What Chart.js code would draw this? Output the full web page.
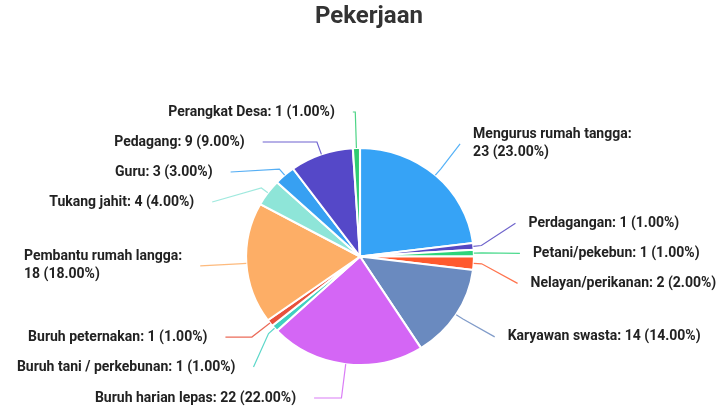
<!DOCTYPE html>
<html>
<head>
<meta charset="utf-8">
<script src="https://cdn.jsdelivr.net/npm/chart.js@4"></script>
<style>
  html, body { margin: 0; padding: 0; background: #fff; }
  #wrap { width: 722px; height: 406px; }
</style>
</head>
<body>
<div id="wrap"><canvas id="grafico" width="722" height="406"></canvas></div>
<script>
const judul = 'Pekerjaan';

const kategori = [
    'Mengurus rumah tangga',
    'Perdagangan',
    'Petani/pekebun',
    'Nelayan/perikanan',
    'Karyawan swasta',
    'Buruh harian lepas',
    'Buruh tani / perkebunan',
    'Buruh peternakan',
    'Pembantu rumah langga',
    'Tukang jahit',
    'Guru',
    'Pedagang',
    'Perangkat Desa'
];

const jumlah = [23, 1, 1, 2, 14, 22, 1, 1, 18, 4, 3, 9, 1];

const warna = [
    '#36a3f6', '#5548c2', '#2ed47a', '#ff5a2e', '#6a8abf', '#d466f5',
    '#40d0c0', '#e8513c', '#fdae66', '#8ee5d8', '#37a0f2', '#5548c8', '#2ecc71'
];

const SX = 1.05; // pie sedikit melebar seperti gambar asli

// label di luar pie dengan garis penunjuk
const labelLuar = {
    id: 'labelLuar',
    beforeDatasetsDraw(chart) {
        const a = chart.getDatasetMeta(0).data[0];
        const c = chart.ctx;
        c.save();
        c.translate(a.x, a.y);
        c.scale(SX, 1);
        c.translate(-a.x, -a.y);
    },
    afterDatasetsDraw(chart) {
        const c = chart.ctx;
        c.restore();

        const arcs = chart.getDatasetMeta(0).data;
        const total = jumlah.reduce((a, b) => a + b, 0);
        const W = chart.width, H = chart.height;
        const R_LABEL = 150;   // posisi awal label
        const A_ELIPS = 160;   // jarak horizontal label
        const LH = 18;
        const JARAK = 30;
        const MAKS = 235;

        c.save();

        // judul
        c.font = 'bold 24px Roboto, "Noto Sans", sans-serif';
        c.fillStyle = '#333';
        c.textAlign = 'center';
        c.textBaseline = 'middle';
        c.fillText(judul, 369, 17);

        c.font = 'bold 14px Roboto, "Noto Sans", sans-serif';

        const items = arcs.map((arc, i) => {
            const p = arc.getProps(['x', 'y', 'startAngle', 'endAngle', 'outerRadius']);
            const mid = (p.startAngle + p.endAngle) / 2;
            const kanan = Math.cos(mid) >= 0;
            const pct = (jumlah[i] / total * 100).toFixed(2);
            const teks = kategori[i] + ': ' + jumlah[i] + ' (' + pct + '%)';
            return {
                i, p, mid, kanan, teks,
                y: p.y + R_LABEL * Math.sin(mid)
            };
        });

        // bungkus teks kalau terlalu panjang
        items.forEach(it => {
            const dy = it.y - it.p.y;
            const dx = A_ELIPS * Math.sqrt(Math.max(0, 1 - (dy * dy) / (R_LABEL * R_LABEL)));
            const ax = it.kanan ? it.p.x + dx + 12 : it.p.x - dx - 18;
            const ruang = Math.min(MAKS, it.kanan ? W - ax : ax);
            if (c.measureText(it.teks).width > ruang) {
                const k = it.teks.indexOf(': ');
                it.baris = [it.teks.slice(0, k + 1), it.teks.slice(k + 2)];
            } else {
                it.baris = [it.teks];
            }
            it.h = it.baris.length * LH;
        });

        const atur = (grup) => {
            grup.sort((a, b) => a.y - b.y);
            for (let n = 0; n < 200; n++) {
                for (let k = 1; k < grup.length; k++) {
                    const a = grup[k - 1], b = grup[k];
                    const min = JARAK + (a.h - LH) / 2 + (b.h - LH) / 2;
                    const lewat = a.y + min - b.y;
                    if (lewat > 0) {
                        a.y -= lewat / 2;
                        b.y += lewat / 2;
                    }
                }
                grup.forEach(it => {
                    const atas = 112 + (it.h - LH) / 2;
                    const bawah = H - 8 - (it.h - LH) / 2;
                    it.y = Math.min(bawah, Math.max(atas, it.y));
                });
            }
        };
        atur(items.filter(it => it.kanan));
        atur(items.filter(it => !it.kanan));

        const cy = items[0].p.y + 1.5;
        const B_ELIPS = Math.max(...items.map(it => Math.abs(it.y - cy))) / 0.999;

        items.forEach(it => {
            const { p, mid } = it;
            const r = p.outerRadius;
            const cos = Math.cos(mid), sin = Math.sin(mid);
            const ex = p.x + SX * r * cos, ey = p.y + r * sin;

            // panjang garis pertama: sampai tinggi label kalau dekat
            let t = Math.abs(sin) > 0.01 ? (it.y - ey) / sin : -1;
            if (!(t > 8 && t <= 40)) t = 8;
            const bx = ex + t * cos, by = ey + t * sin;

            const dy = it.y - cy;
            const dx = A_ELIPS * Math.sqrt(Math.max(0, 1 - (dy * dy) / (B_ELIPS * B_ELIPS)));
            const ax = it.kanan ? p.x + dx : p.x - dx;

            c.strokeStyle = warna[it.i];
            c.globalAlpha = 0.85;
            c.lineWidth = 1.2;
            c.beginPath();
            c.moveTo(ex, ey);
            c.lineTo(bx, by);
            c.lineTo(ax, it.y);
            c.stroke();
            c.globalAlpha = 1;

            const lebar = Math.max(...it.baris.map(b => c.measureText(b).width));
            const tx = it.kanan ? ax + 13 : ax - 18 - lebar;
            c.fillStyle = '#222';
            c.textAlign = 'left';
            c.textBaseline = 'middle';
            const y0 = it.y - (it.baris.length - 1) * LH / 2;
            it.baris.forEach((b, k) => c.fillText(b, tx, y0 + k * LH));
        });
        c.restore();
    }
};

const ctx = document.getElementById('grafico');

const grafico = new Chart(ctx, {
    type: 'pie',
    data: {
        labels: kategori,
        datasets: [{
            data: jumlah,
            backgroundColor: warna,
            borderColor: '#ffffff',
            borderWidth: 2
        }]
    },
    options: {
        responsive: false,
        animation: false,
        layout: {
            padding: { top: 147, bottom: 40, left: 200, right: 202 }
        },
        plugins: {
            legend: { display: false },
            tooltip: { enabled: false },
            title: { display: false }
        }
    },
    plugins: [labelLuar]
});
</script>
</body>
</html>
